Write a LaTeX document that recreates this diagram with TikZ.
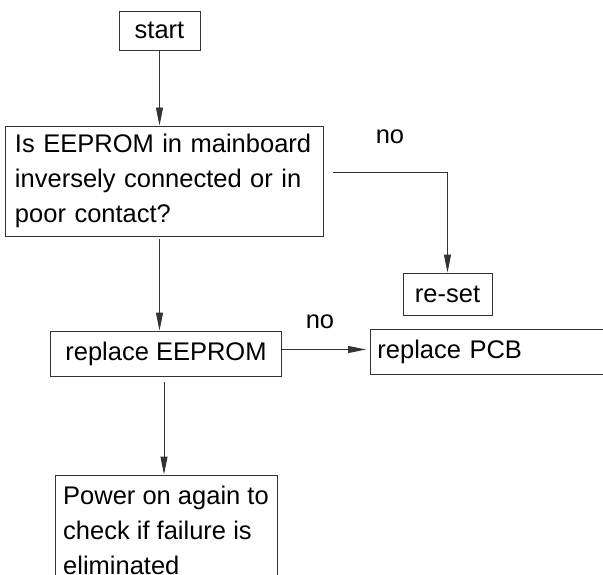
\documentclass[tikz,border=0pt]{standalone}
\usepackage{fontspec}
\setmainfont{Liberation Sans}
\usetikzlibrary{positioning,arrows.meta}

\begin{document}
\begin{tikzpicture}[
 x=1pt, y=-1pt,
 font=\fontsize{25.5}{35}\selectfont,
 box/.style={rectangle, draw=black!80, line width=0.9pt, inner sep=0pt},
 textbox/.style={box, align=left, text width=#1},
 arrow/.style={-{Triangle[length=18pt,width=7pt]}, draw=black!80, line width=0.9pt}
 ]
 \useasboundingbox (0,0) rectangle (603,575);
 \clip (0,0) rectangle (603,575);
 % Nodes
 \node[box, minimum width=81pt, minimum height=39pt] (start) at (159.5,30.5) {start};
 \node[textbox=298pt, minimum width=318pt, minimum height=110pt, inner xsep=10pt] (check) at (164,181)
   {Is EEPROM in mainboard\\inversely connected or in\\poor contact?};
 \node[box, minimum width=89pt, minimum height=42pt] (reset) at (447.5,294) {re-set};
 \node[box, minimum width=231pt, minimum height=45pt] (repl) at (166,353.5) {replace EEPROM};
 \node[textbox=226pt, anchor=west, minimum width=240pt, minimum height=45pt, inner xsep=7pt] (pcb) at (370,351.5)
   {replace PCB};
 \node[box, align=left, minimum width=222pt, minimum height=110pt] (power) at (166,530)
   {Power on again to\\check if failure is\\eliminated};
 % Labels
 \node (no1) at (390,137) {no};
 \node (no2) at (320,322) {no};
 % Arrows
 \draw[arrow] (start) -- (start |- check.north);
 \draw[arrow] ([xshift=10pt,yshift=9pt]check.east) -| (reset.north);
 \draw[arrow, shorten <=3pt] (start |- check.south) -- (start |- repl.north);
 \draw[arrow, shorten >=4pt] ([yshift=4pt]repl.east) -- ([yshift=4pt]repl.east -| pcb.west);
 \draw[arrow, shorten <=6pt] ([xshift=-2pt]repl.south) -- ([xshift=-2pt]repl.south |- power.north);
\end{tikzpicture}
\end{document}
